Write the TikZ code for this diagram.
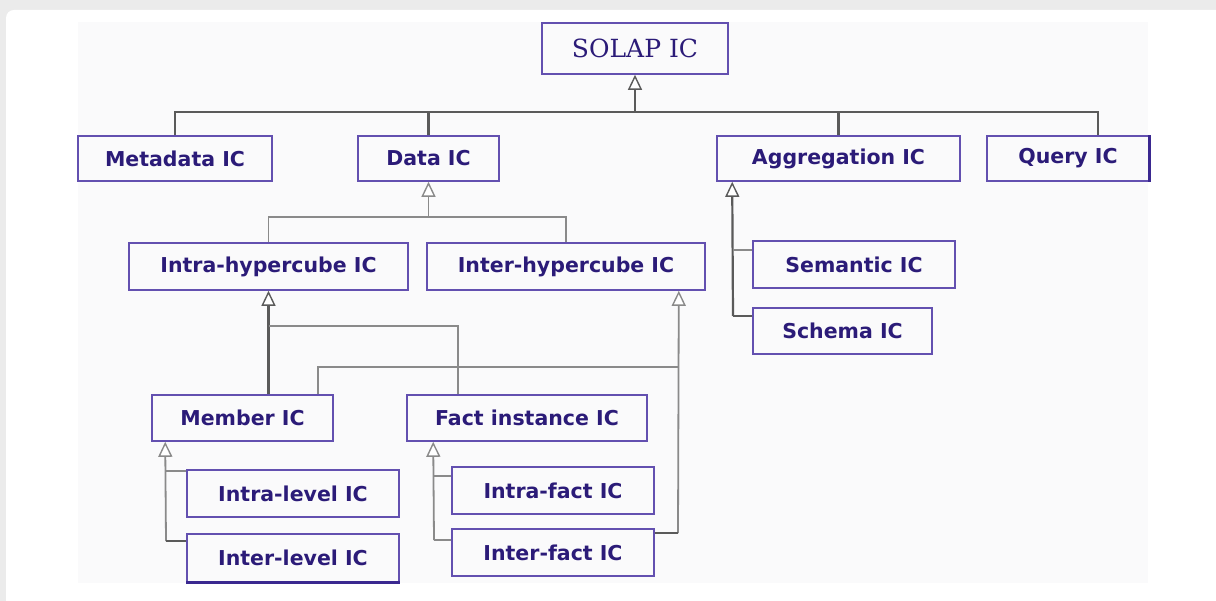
\documentclass[tikz,border=0pt]{standalone}
\usepackage{fontspec}
\setmainfont{DejaVu Sans}
\newfontfamily\titlefont{DejaVu Serif}
\usetikzlibrary{arrows.meta,calc}
\definecolor{txtc}{HTML}{2B1B78}
\definecolor{bordc}{HTML}{6350B0}
\definecolor{darkb}{HTML}{3A2890}
\definecolor{linec}{HTML}{8A8A8A}
\definecolor{darkline}{HTML}{5A5A5A}
\definecolor{outerbg}{HTML}{EBEBEB}
\definecolor{panelbg}{HTML}{FAFAFB}
\begin{document}
\begin{tikzpicture}[x=1pt,y=-1pt,
  box/.style={draw=bordc, line width=1.6pt, fill=panelbg, text=txtc, inner sep=0pt,
              font=\fontsize{20.5}{24}\selectfont\bfseries},
  conn/.style={draw=linec, line width=1.8pt},
  dconn/.style={draw=darkline, line width=2.2pt},
  inh/.style={-{Triangle[open,fill=white,length=15pt,width=14pt,line width=1.4pt]}}
]
\useasboundingbox (0,0) rectangle (1216,601);
\fill[outerbg] (0,0) rectangle (1216,601);
\fill[white, rounded corners=8pt] (6,10) rectangle (1240,640);
\fill[panelbg] (78,22) rectangle (1148,583);

% nodes
\node[box, minimum width=186pt, minimum height=51pt, font=\titlefont\fontsize{25}{28}\selectfont] (solap) at (635,48.5) {SOLAP IC};
\node[box, minimum width=194pt, minimum height=45pt] (meta) at (175,158.5) {Metadata IC};
\node[box, minimum width=141pt, minimum height=45pt] (data) at (428.5,158.5) {Data IC};
\node[box, minimum width=243pt, minimum height=45pt] (aggr) at (838.5,158.5) {Aggregation IC};
\node[box, minimum width=162pt, minimum height=45pt] (query) at (1068,158.5) {Query IC};
\node[box, minimum width=279pt, minimum height=47pt] (intrah) at (268.5,266.5) {Intra-hypercube IC};
\node[box, minimum width=278pt, minimum height=47pt] (interh) at (566,266.5) {Inter-hypercube IC};
\node[box, minimum width=202pt, minimum height=47pt] (sem) at (854,264.5) {Semantic IC};
\node[box, minimum width=179pt, minimum height=46pt] (schema) at (842.5,331) {Schema IC};
\node[box, minimum width=181pt, minimum height=46pt] (member) at (242.5,418) {Member IC};
\node[box, minimum width=240pt, minimum height=46pt] (fact) at (527,418) {Fact instance IC};
\node[box, minimum width=212pt, minimum height=47pt] (intral) at (293,493.5) {Intra-level IC};
\node[box, minimum width=212pt, minimum height=48pt] (interl) at (293,558) {Inter-level IC};
\node[box, minimum width=202pt, minimum height=47pt] (intraf) at (553,490.5) {Intra-fact IC};
\node[box, minimum width=202pt, minimum height=47pt] (interf) at (553,552.5) {Inter-fact IC};

% heavier edges
\draw[darkb, line width=3pt] (query.north east) -- (query.south east);
\draw[darkb, line width=3pt] (interl.south west) -- (interl.south east);

% SOLAP IC
\coordinate (topbus) at (635,112);
\draw[dconn,inh] (topbus) -- (solap);
\draw[dconn] (meta.north) |- (topbus) -| ($(query.north)+(30,0)$);
\draw[dconn] (data.north) -- (data.north |- topbus);
\draw[dconn] (aggr.north) -- (aggr.north |- topbus);

% Data IC
\coordinate (databus) at (428.5,217);
\draw[conn,inh] (databus) -- (data.south);
\draw[conn] (intrah.north) |- (databus) -| (interh.north);

% Aggregation IC
\coordinate (aggtip) at ($(aggr.south west)+(16,0)$);
\coordinate (aggbot) at (733,316);
\coordinate (semj) at (733,250);
\draw[dconn,inh] (aggbot) -- (aggtip);
\draw[dconn] (aggbot) -- (aggbot -| schema.west);
\draw[conn] (semj) -- (semj -| sem.west);

% Intra-hypercube IC
\coordinate (mtop) at (member.north -| intrah.south);
\coordinate (j1) at (268.5,326);
\draw[dconn,inh] (mtop) -- (intrah.south);
\draw[conn] (j1) -| ($(fact.north)+(-69,0)$);

% Inter-hypercube IC
\coordinate (ihtip) at ($(interh.south east)+(-27,0)$);
\coordinate (ihbot) at (678,533);
\coordinate (ihj) at (678,367);
\draw[conn,inh] (ihbot) -- (ihtip);
\draw[dconn] (ihbot) -- (ihbot -| interf.east);
\draw[conn] ($(member.north)+(75.5,0)$) |- (ihj);

% Member IC
\coordinate (mtip) at ($(member.south west)+(14,0)$);
\coordinate (mbot) at (166,541);
\coordinate (lvj) at (166,471);
\draw[conn,inh] (mbot) -- (mtip);
\draw[dconn] (mbot) -- (mbot -| interl.west);
\draw[conn] (lvj) -- (lvj -| intral.west);

% Fact instance IC
\coordinate (ftip) at ($(fact.south west)+(27,0)$);
\coordinate (fbot) at (434,540);
\coordinate (fj) at (434,476);
\draw[conn,inh] (fbot) -- (ftip);
\draw[conn] (fbot) -- (fbot -| interf.west);
\draw[conn] (fj) -- (fj -| intraf.west);
\end{tikzpicture}
\end{document}
